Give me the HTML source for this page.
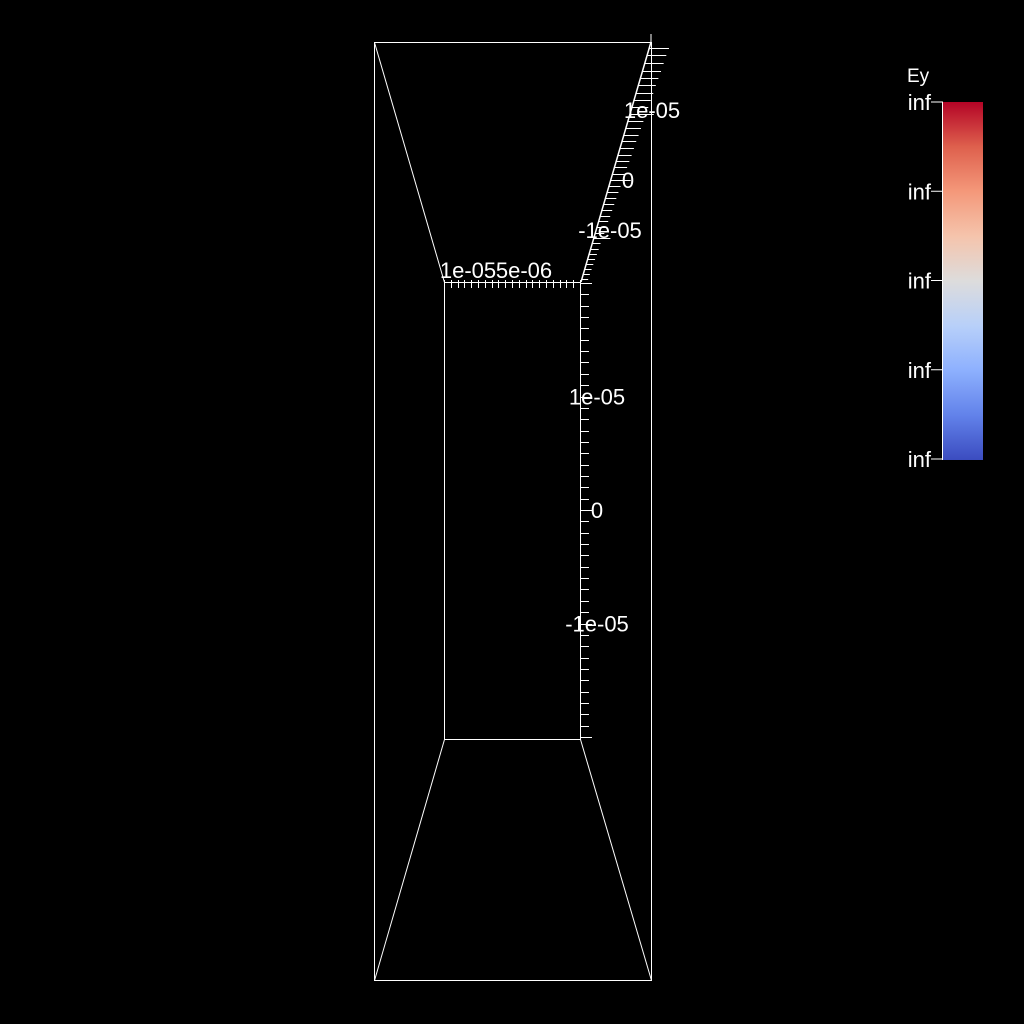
<!DOCTYPE html>
<html><head><meta charset="utf-8"><style>
html,body{margin:0;padding:0;background:#000;}
svg{display:block;}
text{font-family:"Liberation Sans",sans-serif;fill:#fff;}
</style></head><body>
<svg id="chart" width="1024" height="1024" viewBox="0 0 1024 1024" xmlns="http://www.w3.org/2000/svg">
<defs>
<linearGradient id="cw" x1="0" y1="1" x2="0" y2="0">
<stop offset="0" stop-color="#3b4cc0"/>
<stop offset="0.125" stop-color="#6282ea"/>
<stop offset="0.25" stop-color="#8db0fe"/>
<stop offset="0.375" stop-color="#b8d0f9"/>
<stop offset="0.5" stop-color="#dddcdc"/>
<stop offset="0.625" stop-color="#f5c4ac"/>
<stop offset="0.75" stop-color="#f4987a"/>
<stop offset="0.875" stop-color="#de604d"/>
<stop offset="1" stop-color="#b40426"/>
</linearGradient>
</defs>
<g stroke="#fff" stroke-width="1" fill="none">
<rect x="374.5" y="42.5" width="277" height="938"/>
<rect x="444.5" y="282.5" width="136" height="457"/>
<line x1="374.5" y1="42.5" x2="444.5" y2="282.5"/>
<line x1="444.5" y1="739.5" x2="374.5" y2="980.5"/>
<line x1="580.5" y1="739.5" x2="651.5" y2="980.5"/>
<line x1="651" y1="34" x2="651" y2="42"/>
</g>
<g id="yaxis"></g>
<g id="xaxis"></g>
<g id="zaxis"></g>
<g>
<text x="907" y="82" font-size="19">Ey</text>
<rect x="943" y="102" width="40" height="358" fill="url(#cw)"/>
<line x1="942.5" y1="102" x2="942.5" y2="460" stroke="#fff"/>
<g id="legendTicks"></g>
</g>
</svg>
<script>
const NS="http://www.w3.org/2000/svg";
const yTicks=[1e-5,0,-1e-5];
const yTickLabels=["1e-05","0","-1e-05"];
const xTickLabels=["1e-05","5e-06"];
const zTickLabels=["1e-05","0","-1e-05"];
const zTicks=[1e-5,0,-1e-5];
const legendLabels=["inf","inf","inf","inf","inf"];
function mk(t,a,p){const e=document.createElementNS(NS,t);for(const k in a)e.setAttribute(k,a[k]);p.appendChild(e);return e;}
const yScale=v=>510-v/1e-5*113.5;
const ya=document.getElementById('yaxis');
mk('line',{x1:580.5,y1:282,x2:580.5,y2:739,stroke:'#fff'},ya);
for(let i=-20;i<=20;i++){const y=Math.round(yScale(i*1e-6))+0.5;if(y<282||y>740)continue;
const l=mk('line',{x1:580,y1:y,x2:i%10==0?592:589,y2:y,stroke:'#fff'},ya);

}
yTicks.forEach((v,i)=>{const t=mk('text',{x:597,y:yScale(v)+8,'font-size':22,'text-anchor':'middle'},ya);t.textContent=yTickLabels[i];

});
const xa=document.getElementById('xaxis');
for(let i=0;i<=20;i++){const x=Math.round(444+i*6.8)+0.5;
const l=mk('line',{x1:x,y1:280,x2:x,y2:288,stroke:'#fff'},xa);

}
[468,524].forEach((x,i)=>{const t=mk('text',{x:x,y:278,'font-size':22,'text-anchor':'middle'},xa);t.textContent=xTickLabels[i];

});
const za=document.getElementById('zaxis');
const zScale=v=>{const s=v/1e-5;return 180-s*62-s*s*4;};
const zx=y=>581+(282-y)*(70/240);
mk('line',{x1:581,y1:282,x2:651,y2:42,stroke:'#fff','stroke-width':1.5},za);
for(let i=-20;i<=20;i++){let y=zScale(i*1e-6);if(y>282||y<44)continue;
const x=zx(y);const len=6+(282-y)/240*14+(i%10==0?8:0);
const l=mk('line',{x1:x,y1:Math.round(y)+0.5,x2:x+len,y2:Math.round(y)+0.5,stroke:'#fff'},za);

}
[[652,110],[628,180],[610,230]].forEach((p,i)=>{const t=mk('text',{x:p[0],y:p[1]+8,'font-size':22,'text-anchor':'middle'},za);t.textContent=zTickLabels[i];

});
const lg=document.getElementById('legendTicks');
legendLabels.forEach((s,i)=>{const y=102+i*89.25;
mk('line',{x1:931,y1:y,x2:943,y2:y,stroke:'#fff'},lg);
const t=mk('text',{x:931,y:y+8,'font-size':22,'text-anchor':'end'},lg);t.textContent=s;

});
</script>
</body></html>
